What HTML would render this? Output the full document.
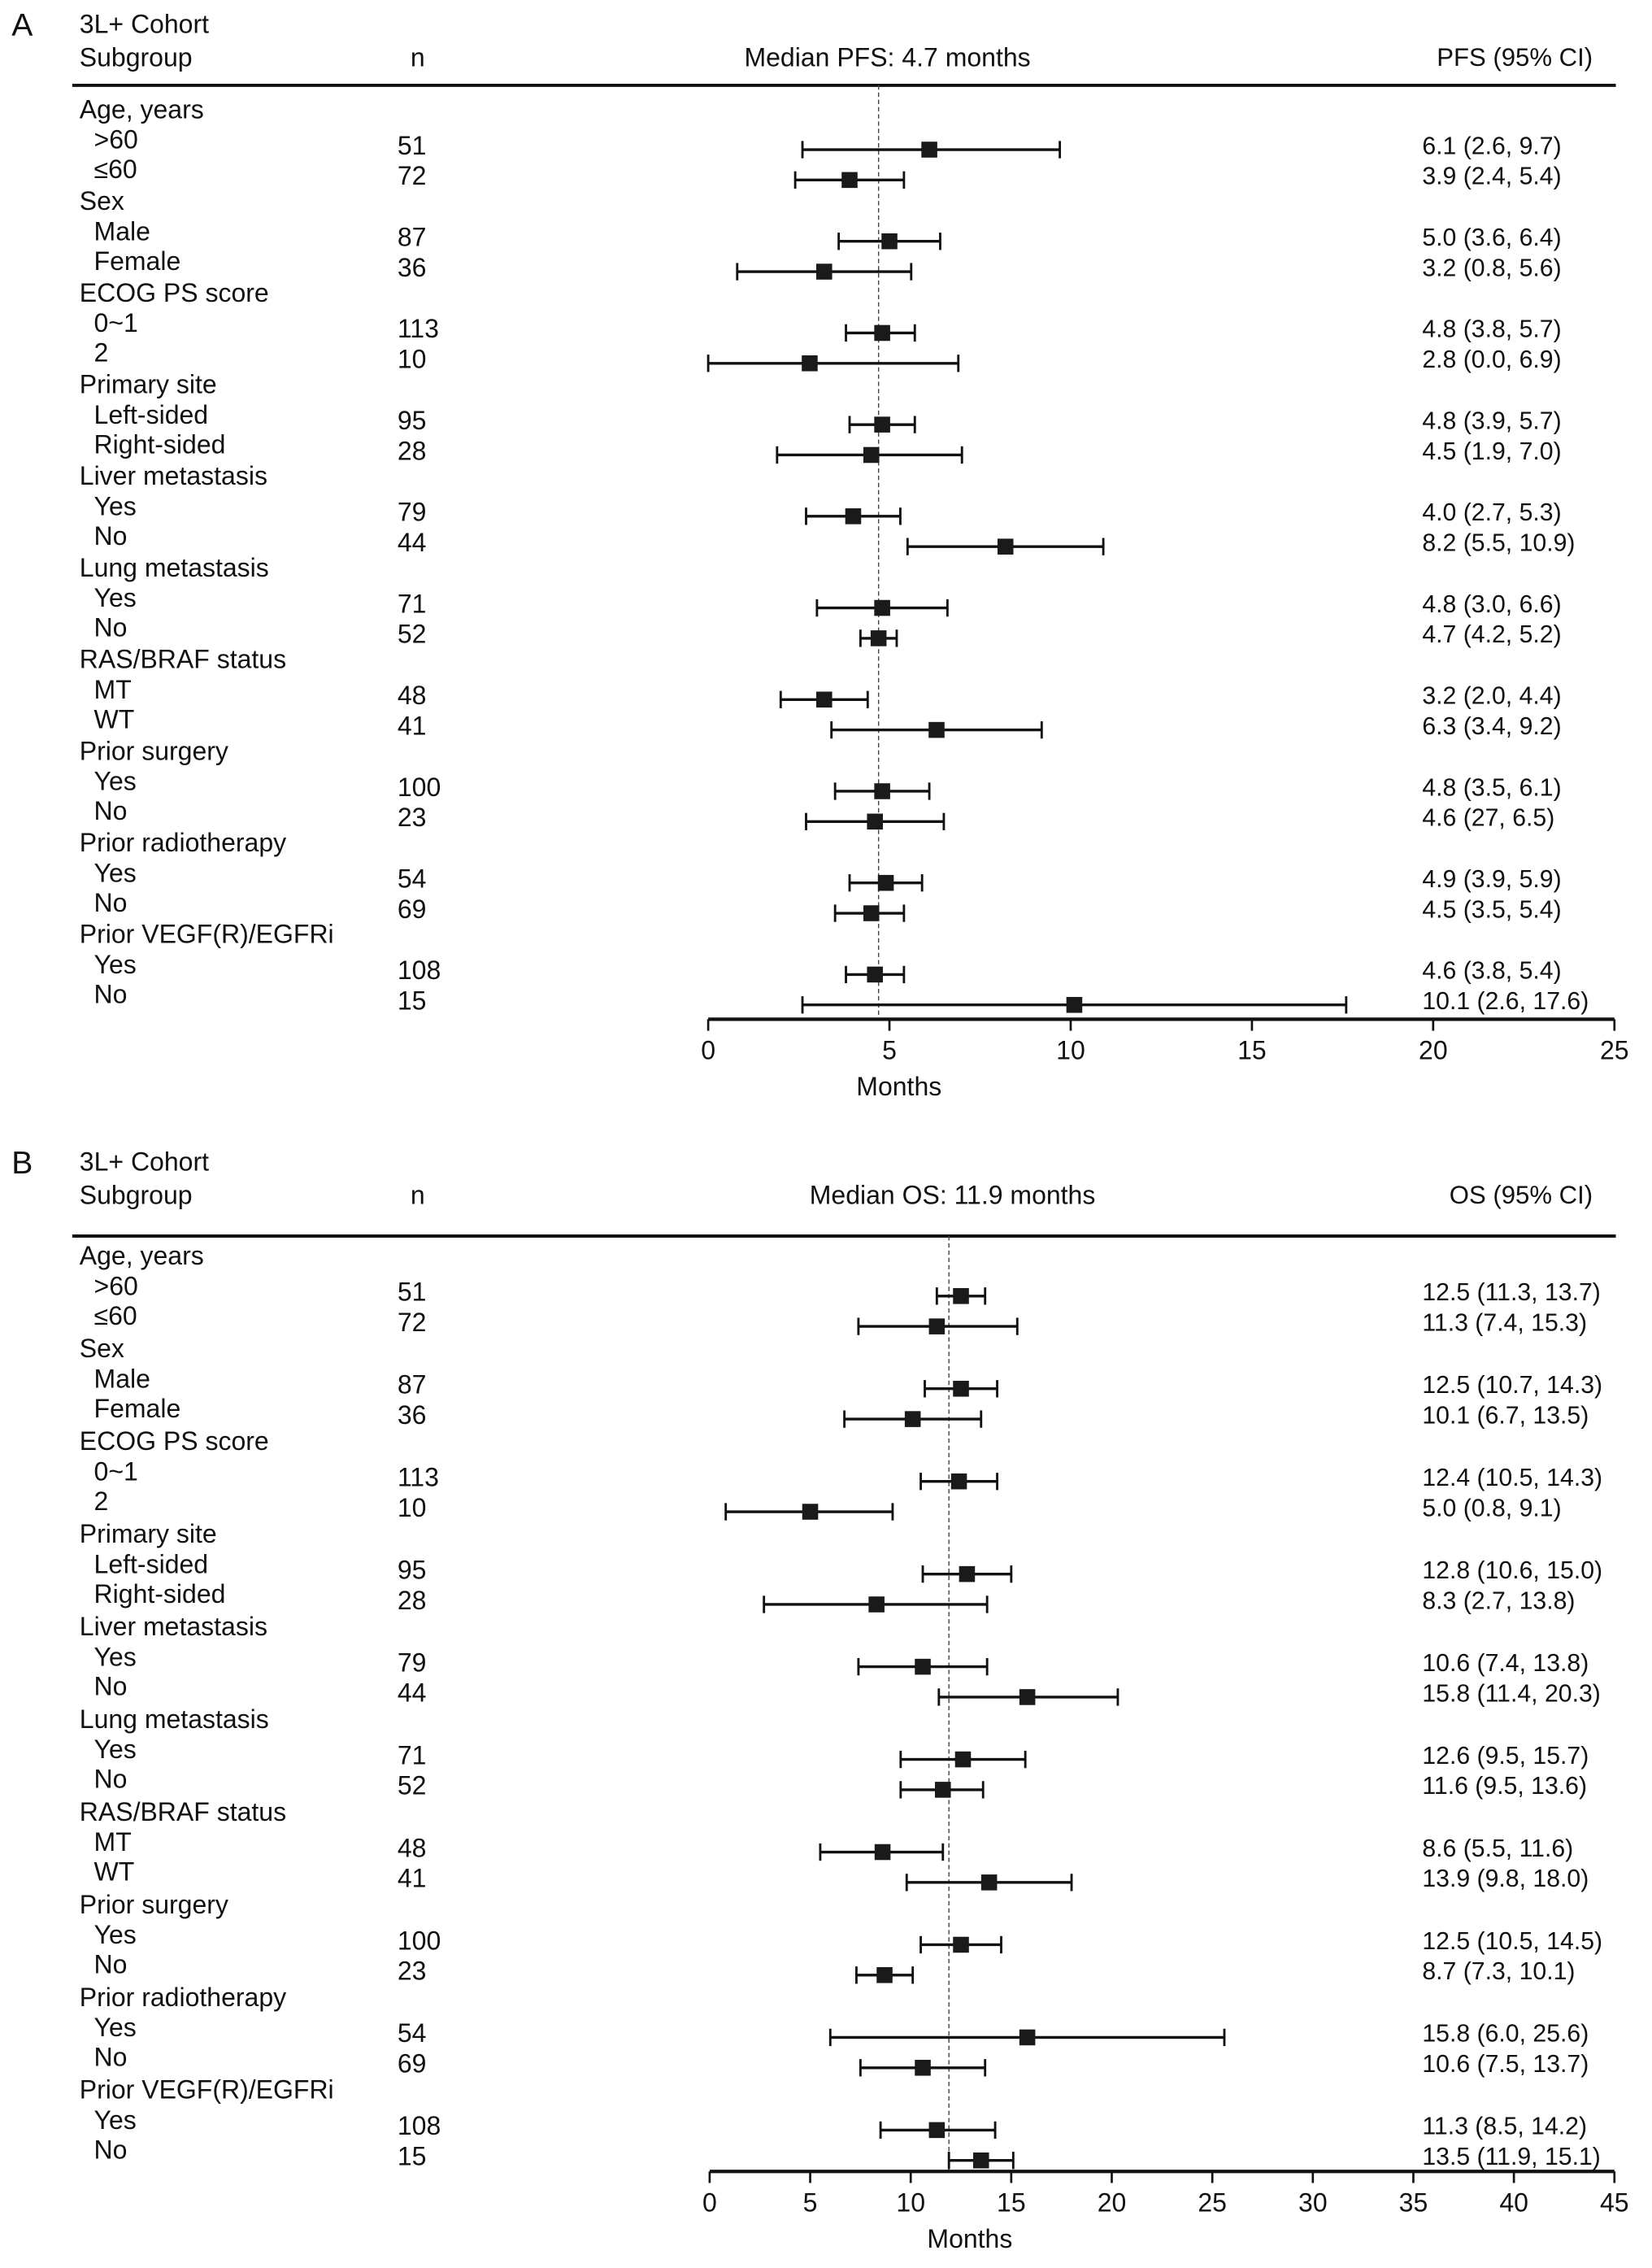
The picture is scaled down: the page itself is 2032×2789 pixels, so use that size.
<!DOCTYPE html>
<html><head><meta charset="utf-8"><style>
html,body{margin:0;padding:0;background:#fff}
svg{display:block}
text{font-family:"Liberation Sans",Arial,sans-serif;fill:#111}
</style></head><body>
<svg id="chart" xmlns="http://www.w3.org/2000/svg" width="2032" height="2789" viewBox="0 0 1143 1568.8"></svg>
<script>
const groupLabels = ["Age, years","Sex","ECOG PS score","Primary site","Liver metastasis","Lung metastasis","RAS/BRAF status","Prior surgery","Prior radiotherapy","Prior VEGF(R)/EGFRi"];
const subLabels = [[">60","≤60"],["Male","Female"],["0~1","2"],["Left-sided","Right-sided"],["Yes","No"],["Yes","No"],["MT","WT"],["Yes","No"],["Yes","No"],["Yes","No"]];
const nValues = [[51,72],[87,36],[113,10],[95,28],[79,44],[71,52],[48,41],[100,23],[54,69],[108,15]];
const pfsEst = [[6.1,3.9],[5.0,3.2],[4.8,2.8],[4.8,4.5],[4.0,8.2],[4.8,4.7],[3.2,6.3],[4.8,4.6],[4.9,4.5],[4.6,10.1]];
const pfsLo  = [[2.6,2.4],[3.6,0.8],[3.8,0.0],[3.9,1.9],[2.7,5.5],[3.0,4.2],[2.0,3.4],[3.5,2.7],[3.9,3.5],[3.8,2.6]];
const pfsHi  = [[9.7,5.4],[6.4,5.6],[5.7,6.9],[5.7,7.0],[5.3,10.9],[6.6,5.2],[4.4,9.2],[6.1,6.5],[5.9,5.4],[5.4,17.6]];
const pfsText = [["6.1 (2.6, 9.7)","3.9 (2.4, 5.4)"],["5.0 (3.6, 6.4)","3.2 (0.8, 5.6)"],["4.8 (3.8, 5.7)","2.8 (0.0, 6.9)"],["4.8 (3.9, 5.7)","4.5 (1.9, 7.0)"],["4.0 (2.7, 5.3)","8.2 (5.5, 10.9)"],["4.8 (3.0, 6.6)","4.7 (4.2, 5.2)"],["3.2 (2.0, 4.4)","6.3 (3.4, 9.2)"],["4.8 (3.5, 6.1)","4.6 (27, 6.5)"],["4.9 (3.9, 5.9)","4.5 (3.5, 5.4)"],["4.6 (3.8, 5.4)","10.1 (2.6, 17.6)"]];
const osEst = [[12.5,11.3],[12.5,10.1],[12.4,5.0],[12.8,8.3],[10.6,15.8],[12.6,11.6],[8.6,13.9],[12.5,8.7],[15.8,10.6],[11.3,13.5]];
const osLo  = [[11.3,7.4],[10.7,6.7],[10.5,0.8],[10.6,2.7],[7.4,11.4],[9.5,9.5],[5.5,9.8],[10.5,7.3],[6.0,7.5],[8.5,11.9]];
const osHi  = [[13.7,15.3],[14.3,13.5],[14.3,9.1],[15.0,13.8],[13.8,20.3],[15.7,13.6],[11.6,18.0],[14.5,10.1],[25.6,13.7],[14.2,15.1]];
const osText = [["12.5 (11.3, 13.7)","11.3 (7.4, 15.3)"],["12.5 (10.7, 14.3)","10.1 (6.7, 13.5)"],["12.4 (10.5, 14.3)","5.0 (0.8, 9.1)"],["12.8 (10.6, 15.0)","8.3 (2.7, 13.8)"],["10.6 (7.4, 13.8)","15.8 (11.4, 20.3)"],["12.6 (9.5, 15.7)","11.6 (9.5, 13.6)"],["8.6 (5.5, 11.6)","13.9 (9.8, 18.0)"],["12.5 (10.5, 14.5)","8.7 (7.3, 10.1)"],["15.8 (6.0, 25.6)","10.6 (7.5, 13.7)"],["11.3 (8.5, 14.2)","13.5 (11.9, 15.1)"]];
const pfsTicks = [0,5,10,15,20,25];
const osTicks = [0,5,10,15,20,25,30,35,40,45];
const pfsMedian = 4.7, osMedian = 11.9;

const NS="http://www.w3.org/2000/svg";
const svg=document.getElementById('chart');
function mk(tag,attrs,parent){const e=document.createElementNS(NS,tag);for(const k in attrs)e.setAttribute(k,attrs[k]);(parent||svg).appendChild(e);return e;}
function txt(x,y,s,anchor,parent,fs){const t=mk('text',{x:x,y:y,'font-size':fs||17,'text-anchor':anchor||'start','dominant-baseline':'middle'},parent);t.textContent=s;return t;}

function panel(cfg){
  const g=mk('g',{});
  
  
  const x=v=>cfg.x0+(v-cfg.ticks[0])/(cfg.ticks[cfg.ticks.length-1]-cfg.ticks[0])*(cfg.x1-cfg.x0);
  let t=txt(8,cfg.top+1,cfg.letter,'start',g,22);
   
  t=txt(55,cfg.top,'3L+ Cohort','start',g,18);
   
  t=txt(55,cfg.top+23,'Subgroup','start',g,18);
   
  t=txt(289,cfg.top+23,'n','middle',g,18);
   
  t=txt(cfg.medX,cfg.top+23,cfg.medLabel,'middle',g,18);
   
  t=txt(1102,cfg.top+23,cfg.ciHeader,'end',g,17.5);
   
  let l=mk('line',{x1:50,x2:1118,y1:cfg.rule,y2:cfg.rule,stroke:'#111','stroke-width':2.2},g);
   
  l=mk('line',{x1:x(cfg.median),x2:x(cfg.median),y1:cfg.rule,y2:cfg.axisY,stroke:'#444','stroke-width':0.8,'stroke-dasharray':'3,2'},g);
   
  for(let i=0;i<groupLabels.length;i++){
    const h=cfg.first+i*cfg.step;
    t=txt(55,h,groupLabels[i],'start',g,18);
     
    for(let j=0;j<2;j++){
      const ly=h+21+j*20.5, ny=h+25+j*21;
      t=txt(65,ly,subLabels[i][j],'start',g,18);
       
      t=txt(275,ny,String(nValues[i][j]),'start',g,18);
       
      t=txt(984,ny,cfg.text[i][j],'start',g,17);
       
      const my=ny+1.5;
      l=mk('line',{x1:x(cfg.lo[i][j]),x2:x(cfg.hi[i][j]),y1:my,y2:my,stroke:'#111','stroke-width':1.9},g);
       
      l=mk('line',{x1:x(cfg.lo[i][j]),x2:x(cfg.lo[i][j]),y1:my-6,y2:my+6,stroke:'#111','stroke-width':1.6},g);
       
      l=mk('line',{x1:x(cfg.hi[i][j]),x2:x(cfg.hi[i][j]),y1:my-6,y2:my+6,stroke:'#111','stroke-width':1.6},g);
       
      const r=mk('rect',{x:x(cfg.est[i][j])-5.5,y:my-5.5,width:11,height:11,fill:'#1a1a1a'},g);
       
    }
  }
  l=mk('line',{x1:x(cfg.ticks[0]),x2:x(cfg.ticks[cfg.ticks.length-1]),y1:cfg.axisY,y2:cfg.axisY,stroke:'#111','stroke-width':2.4},g);
   
  cfg.ticks.forEach(v=>{
    const tk=mk('line',{x1:x(v),x2:x(v),y1:cfg.axisY,y2:cfg.axisY+8,stroke:'#111','stroke-width':1.5},g);
     
    const tl=txt(x(v),cfg.axisY+23,String(v),'middle',g,18);
     
  });
  t=txt(cfg.monthsX,cfg.axisY+48,'Months','middle',g,18);
   
}

panel({name:'pfs-panel',letter:'A',top:18,rule:59,medLabel:'Median PFS: 4.7 months',medX:614,ciHeader:'PFS (95% CI)',
  first:77,step:63.4,axisY:705,x0:490,x1:1117,ticks:pfsTicks,median:pfsMedian,monthsX:622,
  est:pfsEst,lo:pfsLo,hi:pfsHi,text:pfsText});
panel({name:'os-panel',letter:'B',top:805,rule:855,medLabel:'Median OS: 11.9 months',medX:659,ciHeader:'OS (95% CI)',
  first:870,step:64.1,axisY:1502,x0:491,x1:1117,ticks:osTicks,median:osMedian,monthsX:671,
  est:osEst,lo:osLo,hi:osHi,text:osText});
</script>
</body></html>
